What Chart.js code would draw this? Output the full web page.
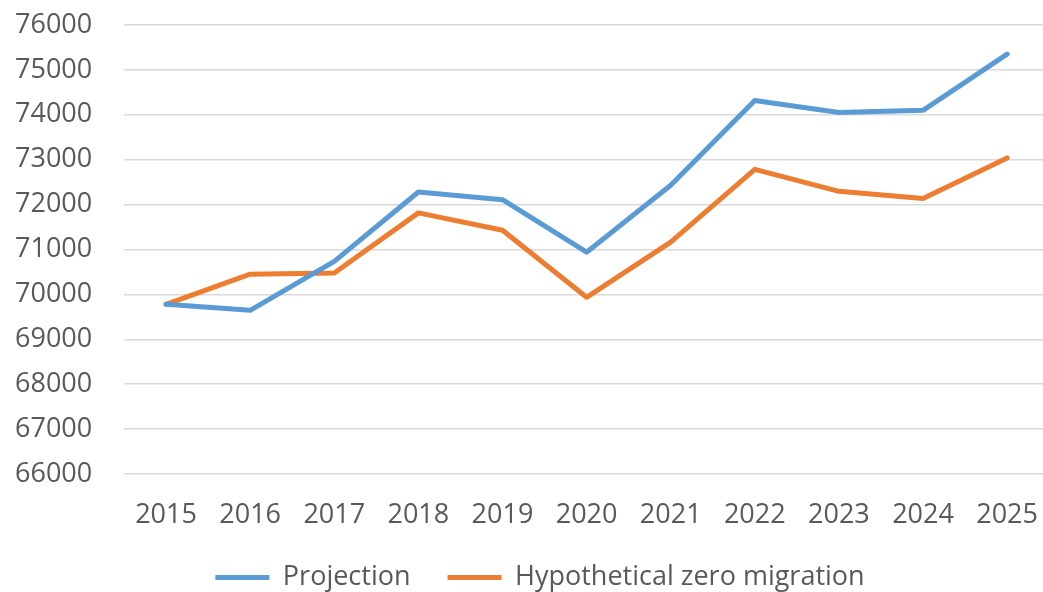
<!DOCTYPE html>
<html>
<head>
<meta charset="utf-8">
<script src="https://cdn.jsdelivr.net/npm/chart.js@4"></script>
<style>
  html, body { margin: 0; padding: 0; background: #fff; overflow: hidden; }
</style>
</head>
<body>
<canvas id="myChart" width="1063" height="601"></canvas>
<script>
var years = ["2015", "2016", "2017", "2018", "2019", "2020", "2021", "2022", "2023", "2024", "2025"];
var projection = [69780, 69645, 70735, 72280, 72110, 70940, 72430, 74320, 74050, 74100, 75350];
var zeroMigration = [69780, 70450, 70475, 71815, 71430, 69935, 71165, 72785, 72295, 72135, 73040];
var yMin = 66000;
var yMax = 76000;
var yStep = 1000;

var textColor = '#595959';
var font = { family: 'Open Sans', size: 27 };

var chrt = document.getElementById("myChart").getContext("2d");
var chartId = new Chart(chrt, {
   type: 'line',
   data: {
      labels: years,
      datasets: [{
         label: "Projection",
         data: projection,
         borderColor: '#5B9BD5',
         backgroundColor: '#5B9BD5',
         borderWidth: 5,
         borderCapStyle: 'round',
         borderJoinStyle: 'round',
         pointRadius: 0,
         pointStyle: 'line',
         tension: 0
      }, {
         label: "Hypothetical zero migration",
         data: zeroMigration,
         borderColor: '#ED7D31',
         backgroundColor: '#ED7D31',
         borderWidth: 5,
         borderCapStyle: 'round',
         borderJoinStyle: 'round',
         pointRadius: 0,
         pointStyle: 'line',
         tension: 0
      }]
   },
   options: {
      responsive: false,
      animation: false,
      layout: {
         padding: { left: 15, right: -2, top: 25, bottom: 0 }
      },
      plugins: {
         tooltip: { enabled: false },
         legend: {
            position: 'bottom',
            labels: {
               usePointStyle: true,
               pointStyleWidth: 54,
               color: textColor,
               font: font,
               padding: 37
            }
         }
      },
      scales: {
         x: {
            offset: true,
            afterFit: function (s) { s.height = 53; },
            grid: { display: false, drawTicks: false },
            border: { display: false },
            ticks: { color: textColor, font: font, padding: 25, maxRotation: 0 }
         },
         y: {
            min: yMin,
            max: yMax,
            afterFit: function (s) { s.width = 109; },
            grid: { color: '#D9D9D9', lineWidth: 1.5, drawTicks: false },
            border: { display: false },
            ticks: {
               stepSize: yStep,
               color: textColor,
               font: font,
               padding: 0,
               crossAlign: 'far',
               callback: function (v) { return String(v); }
            }
         }
      }
   }
});
</script>
</body>
</html>
